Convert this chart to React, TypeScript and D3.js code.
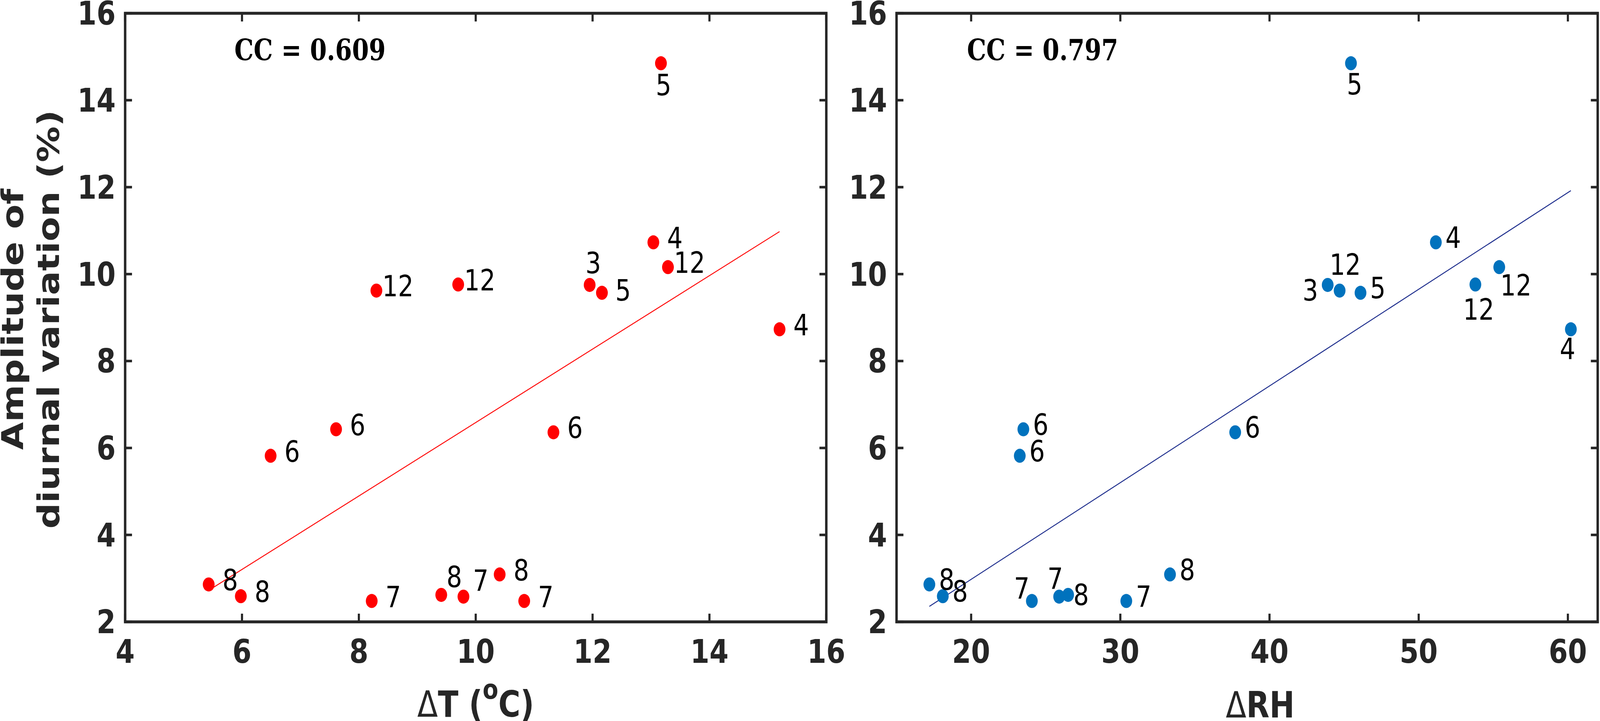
import React, {useRef, useEffect} from 'react';
import * as d3 from 'd3';

// month of each sample
const months = ['5', '4', '12', '3', '12', '12', '5', '4', '6', '6', '6', '8', '8', '8', '8', '7', '7', '7'];
// amplitude of diurnal variation (%)
const amplitude = [14.85, 10.73, 10.16, 9.75, 9.76, 9.62, 9.57, 8.73, 6.43, 6.36, 5.82, 3.09, 2.86, 2.62, 2.59, 2.58, 2.48, 2.48];
// ΔT (°C)
const deltaT = [13.17, 13.04, 13.29, 11.95, 9.70, 8.30, 12.16, 15.20, 7.61, 11.33, 6.49, 10.41, 5.43, 9.41, 5.98, 9.79, 8.22, 10.83];
// ΔRH
const deltaRH = [45.46, 51.15, 55.4, 43.9, 53.8, 44.7, 46.1, 60.2, 23.5, 37.7, 23.26, 33.33, 17.2, 26.5, 18.1, 25.9, 24.07, 30.4];

const xTicksT = [4, 6, 8, 10, 12, 14, 16];
const xTicksRH = [20, 30, 40, 50, 60];
const yTicks = [2, 4, 6, 8, 10, 12, 14, 16];

// label placement (px from marker centre), null = default
const labelOffsetT: ([number, number] | null)[] = [
    [8, 82], null, null, [11, -30], null, null, [65, 20], null, null,
    null, null, null, null, [40, -20], null, [53, -15], null, null,
];
const labelOffsetRH: ([number, number] | null)[] = [
    [11, 80], null, [51, 73], [-53, 40], [10, 90], [17, -40], null, [-10, 76], null,
    null, null, null, null, [40, 26], null, [-12, -20], [-31, -7], null,
];

const W = 4897;
const H = 1847;
const AXIS = '#262626';

interface PanelSpec {
    xs: number[];
    domain: [number, number];
    ticks: number[];
    left: number;
    color: string;
    lineColor: string;
    cc: string;
    ccAt: [number, number];
    offsets: ([number, number] | null)[];
    defOffset: [number, number];
}

const App: React.FC = () => {
    const svgRef = useRef<SVGSVGElement>(null);

    useEffect(() => {
        if (!svgRef.current) return;
        const svg = d3.select(svgRef.current);
        svg.selectAll('*').remove();

        const top = 34, bottom = 1593, pw = 2146;
        const y = d3.scaleLinear().domain([2, 16]).range([bottom, top]);

        const panels: PanelSpec[] = [
            {
                xs: deltaT, domain: [4, 16], ticks: xTicksT, left: 383, color: '#ff0000', lineColor: '#ff0000',
                cc: 'CC = 0.609', ccAt: [5.87, 14.92], offsets: labelOffsetT, defOffset: [66, 15],
            },
            {
                xs: deltaRH, domain: [15, 62], ticks: xTicksRH, left: 2744, color: '#0072bd', lineColor: '#1c2c8c',
                cc: 'CC = 0.797', ccAt: [19.72, 14.92], offsets: labelOffsetRH, defOffset: [53, 14],
            },
        ];

        panels.forEach((p) => {
            const x = d3.scaleLinear().domain(p.domain).range([p.left, p.left + pw]);
            const g = svg.append('g');

            // least squares fit
            const mx = d3.mean(p.xs) as number;
            const my = d3.mean(amplitude) as number;
            const sxy = d3.sum(p.xs, (v, i) => (v - mx) * (amplitude[i] - my));
            const sxx = d3.sum(p.xs, (v) => (v - mx) ** 2);
            const b = sxy / sxx;
            const a = my - b * mx;
            const [x0, x1] = d3.extent(p.xs) as [number, number];
            g.append('path')
                .attr('d', d3.line()([[x(x0), y(a + b * x0)], [x(x1), y(a + b * x1)]]))
                .attr('stroke', p.lineColor)
                .attr('stroke-width', 2.5)
                .attr('fill', 'none');

            // markers
            g.selectAll('circle.pt')
                .data(p.xs)
                .join('circle')
                .attr('cx', (d) => x(d))
                .attr('cy', (_d, i) => y(amplitude[i]))
                .attr('r', 18)
                .attr('fill', p.color);

            // month labels
            g.selectAll('text.lab')
                .data(p.xs)
                .join('text')
                .attr('x', (d, i) => x(d) + (p.offsets[i] ?? p.defOffset)[0])
                .attr('y', (_d, i) => y(amplitude[i]) + (p.offsets[i] ?? p.defOffset)[1])
                .attr('text-anchor', 'middle')
                .style('font-family', 'DejaVu Sans')
                .style('font-size', '75px')
                .attr('fill', '#000')
                .text((_d, i) => months[i]);

            // CC annotation
            g.append('text')
                .attr('x', x(p.ccAt[0]))
                .attr('y', y(p.ccAt[1]))
                .style('font-family', 'DejaVu Serif')
                .style('font-weight', 'bold')
                .style('font-size', '74px')
                .attr('fill', '#000')
                .text(p.cc);

            // box
            g.append('rect')
                .attr('x', p.left).attr('y', top)
                .attr('width', pw).attr('height', bottom - top)
                .attr('fill', 'none').attr('stroke', AXIS).attr('stroke-width', 7.5);

            const tl = 21;
            p.ticks.forEach((t) => {
                const tx = x(t);
                g.append('line').attr('x1', tx).attr('x2', tx).attr('y1', bottom).attr('y2', bottom - tl)
                    .attr('stroke', AXIS).attr('stroke-width', 6.5);
                g.append('line').attr('x1', tx).attr('x2', tx).attr('y1', top).attr('y2', top + tl)
                    .attr('stroke', AXIS).attr('stroke-width', 6.5);
                g.append('text')
                    .attr('x', tx).attr('y', bottom + 105)
                    .attr('text-anchor', 'middle')
                    .style('font-family', 'DejaVu Sans').style('font-weight', 'bold').style('font-size', '84px')
                    .attr('fill', AXIS)
                    .text(t);
            });
            yTicks.forEach((t) => {
                const ty = y(t);
                g.append('line').attr('x1', p.left).attr('x2', p.left + tl).attr('y1', ty).attr('y2', ty)
                    .attr('stroke', AXIS).attr('stroke-width', 6.5);
                g.append('line').attr('x1', p.left + pw).attr('x2', p.left + pw - tl).attr('y1', ty).attr('y2', ty)
                    .attr('stroke', AXIS).attr('stroke-width', 6.5);
                g.append('text')
                    .attr('x', p.left - 29).attr('y', ty).attr('dy', '0.35em')
                    .attr('text-anchor', 'end')
                    .style('font-family', 'DejaVu Sans').style('font-weight', 'bold').style('font-size', '84px')
                    .attr('fill', AXIS)
                    .text(t);
            });
        });

        // x labels
        const xl1 = svg.append('text')
            .attr('x', 383 + pw / 2).attr('y', 1836)
            .attr('text-anchor', 'middle')
            .style('font-family', 'DejaVu Sans').style('font-weight', 'bold').style('font-size', '92px')
            .attr('fill', AXIS);
        xl1.append('tspan').style('font-weight', 'normal').text('Δ');
        xl1.append('tspan').text('T (');
        xl1.append('tspan').attr('dy', -46).style('font-size', '70px').text('o');
        xl1.append('tspan').attr('dy', 46).text('C)');

        const xl2 = svg.append('text')
            .attr('x', 3857).attr('y', 1838)
            .attr('text-anchor', 'middle')
            .style('font-family', 'DejaVu Sans').style('font-weight', 'bold').style('font-size', '92px')
            .attr('fill', AXIS);
        xl2.append('tspan').style('font-weight', 'normal').text('Δ');
        xl2.append('tspan').text('RH');

        // y label (two lines)
        const yl = svg.append('text')
            .attr('transform', `translate(0, 818) rotate(-90)`)
            .attr('text-anchor', 'middle')
            .style('font-family', 'DejaVu Sans').style('font-weight', 'bold').style('font-size', '92px')
            .attr('fill', AXIS);
        yl.append('tspan').attr('x', 0).attr('y', 70).text('Amplitude of');
        yl.append('tspan').attr('x', 0).attr('y', 180).text('diurnal variation (%)');
    }, []);

    // the window may be narrower than the figure, so the figure is fitted to it
    return (
        <div style={{position: 'fixed', left: 0, top: 0, width: '100vw', height: '100vh', background: '#fff'}}>
            <svg ref={svgRef} viewBox={`0 0 ${W} ${H}`} preserveAspectRatio="none"
                 style={{display: 'block', width: '100%', height: '100%'}}/>
        </div>
    );
};

export default App;
